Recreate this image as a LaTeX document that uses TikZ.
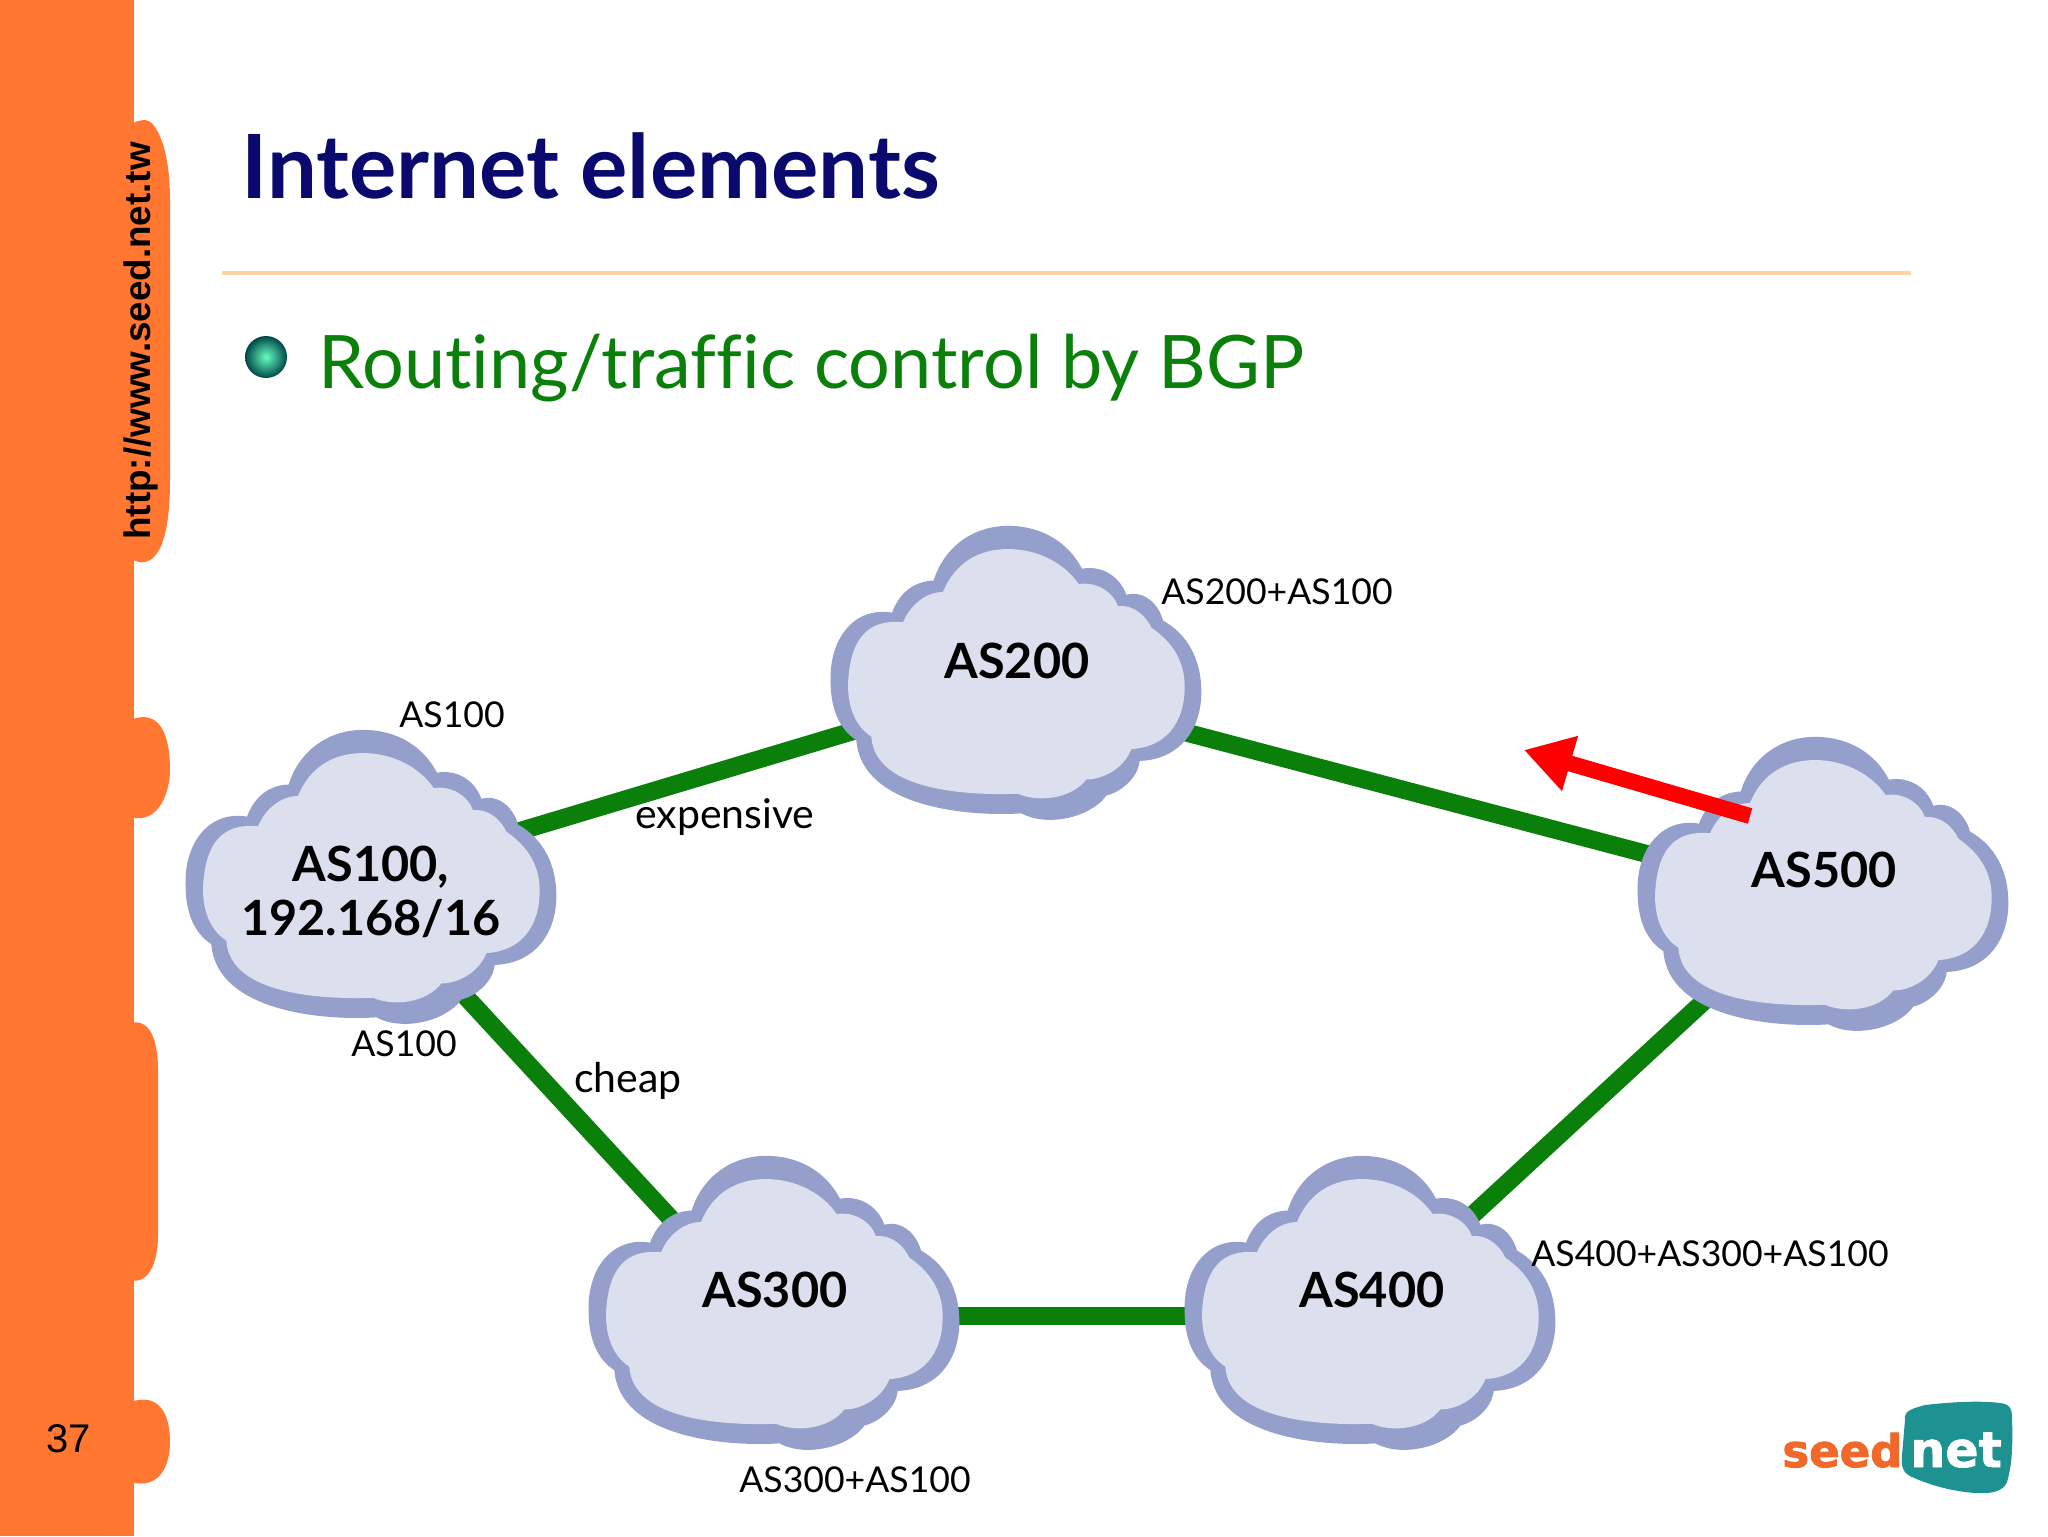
\documentclass[tikz,border=0pt]{standalone}
\usepackage{fontspec}
\setmainfont[Ligatures=NoCommon]{Lato}
\newfontfamily\arialf{Liberation Sans}
\newfontfamily\logof{DejaVu Sans}
\usetikzlibrary{calc,arrows.meta}
\definecolor{barorange}{HTML}{FF7730}
\definecolor{navyt}{HTML}{0A0A6E}
\definecolor{linkgreen}{HTML}{0A7F0A}
\definecolor{cloudout}{HTML}{949FCB}
\definecolor{cloudin}{HTML}{DCDFEE}
\definecolor{rulec}{HTML}{FBD3A5}
\definecolor{logoteal}{HTML}{1E9191}
\definecolor{logoor}{HTML}{F0682A}
\pgfdeclarelayer{back}
\pgfsetlayers{back,main}
\newcommand\cloudpath{(78,1090) .. controls (70,960) and (150,870) .. (262,888)
 .. controls (285,830) and (330,800) .. (387,798)
 .. controls (420,700) and (510,645) .. (610,645)
 .. controls (710,645) and (790,690) .. (832,765)
 .. controls (890,755) and (945,785) .. (965,838)
 .. controls (1015,825) and (1060,860) .. (1075,910)
 .. controls (1150,950) and (1190,1020) .. (1190,1110)
 .. controls (1190,1220) and (1120,1300) .. (1005,1303)
 .. controls (1000,1350) and (950,1390) .. (905,1400)
 .. controls (860,1460) and (730,1490) .. (650,1450)
 .. controls (480,1460) and (170,1430) .. (155,1245)
 .. controls (105,1215) and (80,1160) .. (78,1090) -- cycle}
\newcommand\cloudinner{(130,1090) .. controls (135,960) and (190,905) .. (295,915)
 .. controls (320,860) and (370,830) .. (415,830)
 .. controls (450,750) and (520,710) .. (610,710)
 .. controls (700,710) and (780,750) .. (822,808)
 .. controls (875,800) and (925,830) .. (940,870)
 .. controls (990,865) and (1025,900) .. (1040,930)
 .. controls (1110,975) and (1140,1030) .. (1140,1095)
 .. controls (1140,1200) and (1080,1265) .. (980,1270)
 .. controls (960,1320) and (900,1355) .. (845,1355)
 .. controls (800,1410) and (700,1420) .. (640,1395)
 .. controls (500,1400) and (210,1390) .. (200,1235)
 .. controls (150,1205) and (130,1150) .. (130,1090) -- cycle}
\tikzset{
  cloudpic/.pic={
    \begin{scope}[x=.16667pt,y=-.17857pt,shift={(-634,-1057)}]
      \fill[cloudout] \cloudpath;
      \fill[cloudin] \cloudinner;
    \end{scope}
  },
  cloudtext/.style={font=\bfseries\fontsize{24.3}{27}\selectfont,align=center,text=black,inner sep=0pt},
  small/.style={font=\fontsize{17.8}{20}\selectfont,text=black,inner sep=0pt},
  bigsmall/.style={font=\fontsize{20.5}{22}\selectfont,text=black,inner sep=0pt},
  link/.style={draw=linkgreen,line width=9pt},
}
\begin{document}
\begin{tikzpicture}[x=.5pt,y=-.5pt]
\useasboundingbox (0,0) rectangle (2048,1536);
\begin{pgfonlayer}{back}
\fill[white] (0,0) rectangle (2048,1536);
\end{pgfonlayer}
% side bar
\fill[barorange] (0,0) rectangle (134,1536);
\fill[barorange] (130,558) .. controls (140,565) and (170,575) .. (170,480) -- (170,200) .. controls (170,145) and (155,120) .. (145,120) .. controls (140,120) and (134,122) .. (130,125) -- cycle;
\fill[barorange] (130,817) .. controls (160,825) and (170,790) .. (170,770) .. controls (170,735) and (160,708) .. (130,720) -- cycle;
\fill[barorange] (130,1280) .. controls (150,1285) and (158,1260) .. (158,1235) -- (158,1070) .. controls (158,1040) and (150,1018) .. (130,1023) -- cycle;
\fill[barorange] (130,1482) .. controls (160,1490) and (170,1465) .. (170,1442) .. controls (170,1415) and (160,1392) .. (130,1402) -- cycle;
\node[rotate=90,inner sep=0pt,text=black] (url) at (141,341) {\arialf\bfseries\fontsize{18.4}{20}\selectfont http://www.seed.net.tw};
\node[inner sep=0pt,text=black] (pageno) at (69,1439) {\arialf\fontsize{20}{22}\selectfont 37};
% title
\node[inner sep=0pt,text=navyt,anchor=base west] (title) at (241,198) {\bfseries\fontsize{44.3}{48}\selectfont Internet elements};
\fill[rulec] (222,271) rectangle (1911,275);
\shade[inner color=green!40!cyan!60!white,outer color=black!20!teal!70!black] (266,357) circle (21);
\node[inner sep=0pt,text=linkgreen,anchor=base west] (bullet) at (318,388) {\fontsize{36.9}{40}\selectfont Routing/traffic control by BGP};
% clouds
\pic at (371,877) {cloudpic};
\pic at (1016,673) {cloudpic};
\pic at (774,1303) {cloudpic};
\pic at (1370,1303) {cloudpic};
\pic at (1823,884) {cloudpic};
\node[cloudtext] (as100) at (371,892) {AS100,\\192.168/16};
\node[cloudtext] (as200) at (1017,661) {AS200};
\node[cloudtext] (as300) at (775,1290) {AS300};
\node[cloudtext] (as400) at (1372,1290) {AS400};
\node[cloudtext] (as500) at (1824,870) {AS500};
% connectors
\begin{pgfonlayer}{back}
\draw[link] ($(as100)+(109,-49)$) -- ($(as200)+(-117,56)$);
\draw[link] ($(as200)+(133,62)$) -- ($(as500)+(-124,-2)$);
\draw[link] ($(as100)+(59,66)$) -- ($(as300)+(-65,-29)$);
\draw[link] ($(as300)+(99,26)$) -- ($(as400)+(-101,26)$);
\draw[link] ($(as400)+(68,-45)$) -- ($(as500)+(-84,98)$);
\end{pgfonlayer}
% red arrow
\coordinate (redstart) at (1750,816);
\coordinate (redtip) at (1524,750);
\draw[red,line width=8pt,-{Triangle[length=24pt,width=27pt]}] (redstart) -- (redtip);
% labels
\node[small] (l1) at (452,715) {AS100};
\node[small] (l2) at (1277,592) {AS200+AS100};
\node[bigsmall] (l3) at (725,817) {expensive};
\node[bigsmall] (l4) at (628,1081) {cheap};
\node[small] (l5) at (404,1044) {AS100};
\node[small] (l6) at (1710,1254) {AS400+AS300+AS100};
\node[small] (l7) at (855,1480) {AS300+AS100};
% logo
\node[inner sep=0pt,text=logoor,anchor=base west] (seed) at (1782,1467) {\logof\bfseries\addfontfeature{FakeBold=2}\fontsize{22.5}{24}\selectfont seed};
\fill[logoteal] (1905,1420) .. controls (1903,1410) and (1915,1408) .. (1925,1405) .. controls (1960,1401) and (1985,1401) .. (2000,1403) .. controls (2012,1404) and (2012,1412) .. (2012,1420) .. controls (2013,1445) and (2012,1465) .. (2007,1482) .. controls (2003,1492) and (1990,1494) .. (1975,1493) .. controls (1950,1491) and (1930,1485) .. (1912,1477) .. controls (1902,1473) and (1901,1465) .. (1902,1455) -- cycle;
\node[inner sep=0pt,text=white,anchor=base west] (net) at (1910,1467) {\logof\bfseries\addfontfeature{FakeBold=1.5}\fontsize{24.5}{27}\selectfont net};
\end{tikzpicture}
\end{document}
